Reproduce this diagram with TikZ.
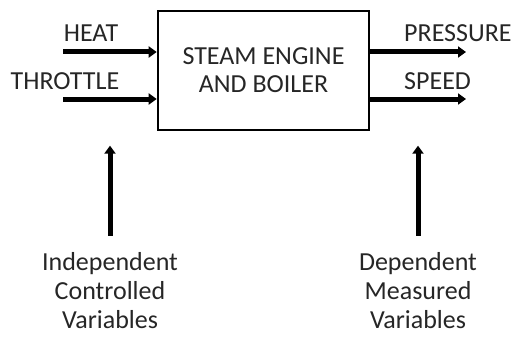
\documentclass[tikz,border=0pt]{standalone}
\usepackage{fontspec}
\setmainfont{Carlito}
\usetikzlibrary{arrows.meta,positioning,calc}

\begin{document}
\begin{tikzpicture}[x=1pt,y=-1pt,>={Triangle[length=8pt,width=11pt]},
 block/.style={draw,line width=2.6pt,minimum width=211pt,minimum height=119pt,align=center,font=\fontsize{26}{28}\selectfont,text=black!85},
 lbl/.style={font=\fontsize{26}{28}\selectfont,text=black!85,inner sep=0pt},
 note/.style={font=\fontsize{26}{29}\selectfont,text=black!85,align=center,inner sep=0pt},
 flow/.style={->,line width=5pt}]
\useasboundingbox (0,0) rectangle (511,337);
\node[block] (eng) at (263.5,70.5) {STEAM ENGINE\\AND BOILER};
% inputs
\coordinate (heatin) at (63,52);
\coordinate (thrin) at (63,99);
\node[lbl] (heat) at (91,33) {HEAT};
\node[lbl] (thr) at (65,81) {THROTTLE};
\draw[flow] (heatin) -- (heatin -| eng.west);
\draw[flow] (thrin) -- (thrin -| eng.west);
% outputs
\coordinate (presout) at (466,52);
\coordinate (spdout) at (466,99);
\node[lbl,anchor=west] (pres) at (404,33) {PRESSURE};
\node[lbl,anchor=west] (spd) at (404,81) {SPEED};
\draw[flow] (presout -| eng.east) -- (presout);
\draw[flow] (spdout -| eng.east) -- (spdout);
% variable classes
\node[note] (indep) at (110,291) {Independent\\Controlled\\Variables};
\node[note] (dep) at (418,291) {Dependent\\Measured\\Variables};
\draw[flow] ([yshift=17pt]indep.north) -- ++(0,-90);
\draw[flow] ([yshift=17pt]dep.north) -- ++(0,-90);
\end{tikzpicture}
\end{document}
